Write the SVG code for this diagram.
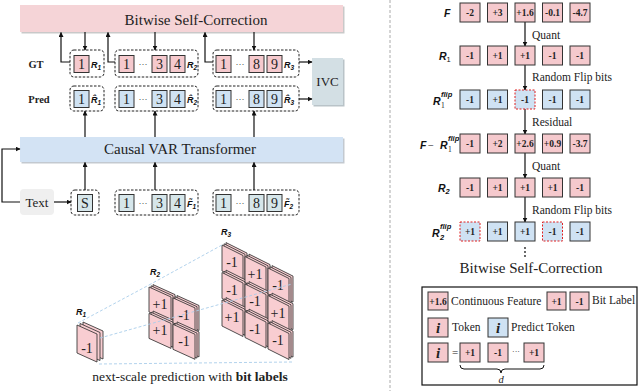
<svg xmlns="http://www.w3.org/2000/svg" width="640" height="391" viewBox="0 0 640 391">
<defs>
<marker id="ah" viewBox="0 0 10 10" refX="9" refY="5" markerWidth="5" markerHeight="5" orient="auto-start-reverse" markerUnits="userSpaceOnUse">
<path d="M0,0 L10,5 L0,10 Z" fill="#111"/>
</marker>
<style>
.ser{font-family:"Liberation Serif","Times New Roman",serif;fill:#222}
.lab{font-family:"Liberation Sans",Arial,sans-serif;font-weight:bold;font-style:italic;fill:#111}
.grp{fill:none;stroke:#222;stroke-width:1;stroke-dasharray:2.5,1.5}
.pk{fill:#f5c9cd;stroke:#333;stroke-width:1}
.bl{fill:#cfe2f3;stroke:#333;stroke-width:1}
.in{fill:#d6e6ea;stroke:#333;stroke-width:1}
.red{stroke:#e02020;stroke-dasharray:2,1.5}
.dg{font-family:"Liberation Serif","Times New Roman",serif;font-size:14px;fill:#222;text-anchor:middle}
.bx{font-family:"Liberation Serif","Times New Roman",serif;font-size:9.5px;font-weight:bold;fill:#222;text-anchor:middle}
.cap{font-family:"Liberation Serif","Times New Roman",serif;font-size:11.5px;fill:#222}
.ln{fill:none;stroke:#111;stroke-width:1.2}
.pl{fill:#f8cdd1;stroke:#333;stroke-width:0.85}
.dl{fill:none;stroke:#a9cdea;stroke-width:0.9;stroke-dasharray:3,2}
.cell{font-family:"Liberation Serif","Times New Roman",serif;font-size:14px;fill:#222;text-anchor:middle}
</style>
</defs>

<!-- separator -->
<line x1="390" y1="0" x2="390" y2="391" stroke="#aaa" stroke-width="1" stroke-dasharray="3,2"/>

<!-- top bar -->
<g id="bitwise-bar">
<rect x="21.5" y="6.5" width="323" height="27" fill="#c9c9c9"/>
<rect x="20" y="5" width="323" height="27" fill="#f5d4d7"/>
<text class="ser" x="196" y="25" font-size="15" text-anchor="middle">Bitwise Self-Correction</text>
</g>

<!-- transformer bar -->
<g id="transformer-bar">
<rect x="21.5" y="138.5" width="323" height="25" fill="#c3c9d0"/>
<rect x="20" y="137" width="323" height="25" fill="#d3e3f4"/>
<text class="ser" x="180" y="154" font-size="15" text-anchor="middle">Causal VAR Transformer</text>
</g>

<g id="row-labels">
<text class="ser" x="36" y="68" font-size="10.5" font-weight="bold" text-anchor="middle">GT</text>
<text class="ser" x="39" y="103" font-size="10.5" font-weight="bold" text-anchor="middle">Pred</text>
</g>

<!-- GT groups -->
<g id="gt-r1">
<rect class="grp" x="70" y="50" width="34" height="27" rx="4"/>
<rect class="pk" x="74" y="55.5" width="15" height="17"/>
<text class="dg" x="81.5" y="69">1</text>
<text class="lab" x="91" y="68" font-size="9">R<tspan font-size="6.5" dy="2">1</tspan></text>
</g>
<g id="gt-r2">
<rect class="grp" x="115" y="50" width="83" height="27" rx="4"/>
<rect class="pk" x="119" y="55.5" width="15" height="17"/>
<text class="dg" x="126.5" y="69">1</text>
<text class="ser" x="143" y="67" font-size="9" text-anchor="middle">···</text>
<rect class="pk" x="152" y="55.5" width="15" height="17"/>
<text class="dg" x="159.5" y="69">3</text>
<rect class="pk" x="170" y="55.5" width="15" height="17"/>
<text class="dg" x="177.5" y="69">4</text>
<text class="lab" x="187" y="68" font-size="9">R<tspan font-size="6.5" dy="2">2</tspan></text>
</g>
<g id="gt-r3">
<rect class="grp" x="213" y="50" width="86" height="27" rx="4"/>
<rect class="pk" x="216" y="55.5" width="15" height="17"/>
<text class="dg" x="223.5" y="69">1</text>
<text class="ser" x="240" y="67" font-size="9" text-anchor="middle">···</text>
<rect class="pk" x="249" y="55.5" width="15" height="17"/>
<text class="dg" x="256.5" y="69">8</text>
<rect class="pk" x="267" y="55.5" width="15" height="17"/>
<text class="dg" x="274.5" y="69">9</text>
<text class="lab" x="284" y="68" font-size="9">R<tspan font-size="6.5" dy="2">3</tspan></text>
</g>

<!-- Pred groups -->
<g id="pred-r1">
<rect class="grp" x="70" y="86" width="34" height="25" rx="4"/>
<rect class="bl" x="74" y="90.5" width="15" height="17"/>
<text class="dg" x="81.5" y="104">1</text>
<text class="lab" x="91" y="103" font-size="9">R̂<tspan font-size="6.5" dy="2">1</tspan></text>
</g>
<g id="pred-r2">
<rect class="grp" x="115" y="86" width="83" height="25" rx="4"/>
<rect class="bl" x="119" y="90.5" width="15" height="17"/>
<text class="dg" x="126.5" y="104">1</text>
<text class="ser" x="143" y="102" font-size="9" text-anchor="middle">···</text>
<rect class="bl" x="152" y="90.5" width="15" height="17"/>
<text class="dg" x="159.5" y="104">3</text>
<rect class="bl" x="170" y="90.5" width="15" height="17"/>
<text class="dg" x="177.5" y="104">4</text>
<text class="lab" x="187" y="103" font-size="9">R̂<tspan font-size="6.5" dy="2">2</tspan></text>
</g>
<g id="pred-r3">
<rect class="grp" x="213" y="86" width="86" height="25" rx="4"/>
<rect class="bl" x="216" y="90.5" width="15" height="17"/>
<text class="dg" x="223.5" y="104">1</text>
<text class="ser" x="240" y="102" font-size="9" text-anchor="middle">···</text>
<rect class="bl" x="249" y="90.5" width="15" height="17"/>
<text class="dg" x="256.5" y="104">8</text>
<rect class="bl" x="267" y="90.5" width="15" height="17"/>
<text class="dg" x="274.5" y="104">9</text>
<text class="lab" x="284" y="103" font-size="9">R̂<tspan font-size="6.5" dy="2">3</tspan></text>
</g>

<g id="ivc">
<rect x="313.5" y="59.5" width="31" height="47" fill="#b9c3c8"/>
<rect x="312" y="58" width="31" height="47" fill="#d3dfe4"/>
<text class="ser" x="327.5" y="86" font-size="13" text-anchor="middle">IVC</text>
</g>

<!-- input row -->
<g id="text-node">
<rect x="20" y="189" width="34" height="26" rx="4" fill="#efefef"/>
<text class="ser" x="37" y="207" font-size="13" text-anchor="middle">Text</text>
</g>
<g id="in-s">
<rect class="grp" x="71" y="190" width="28" height="25" rx="4"/>
<rect class="in" x="77.5" y="194.5" width="15" height="17"/>
<text class="dg" x="85" y="208">S</text>
</g>
<g id="in-f1">
<rect class="grp" x="115" y="190" width="83" height="25" rx="4"/>
<rect class="in" x="119" y="194.5" width="15" height="17"/>
<text class="dg" x="126.5" y="208">1</text>
<text class="ser" x="143" y="206" font-size="9" text-anchor="middle">···</text>
<rect class="in" x="152" y="194.5" width="15" height="17"/>
<text class="dg" x="159.5" y="208">3</text>
<rect class="in" x="170" y="194.5" width="15" height="17"/>
<text class="dg" x="177.5" y="208">4</text>
<text class="lab" x="187" y="207" font-size="9">F̃<tspan font-size="6.5" dy="2">1</tspan></text>
</g>
<g id="in-f2">
<rect class="grp" x="213" y="190" width="86" height="25" rx="4"/>
<rect class="in" x="216" y="194.5" width="15" height="17"/>
<text class="dg" x="223.5" y="208">1</text>
<text class="ser" x="240" y="206" font-size="9" text-anchor="middle">···</text>
<rect class="in" x="249" y="194.5" width="15" height="17"/>
<text class="dg" x="256.5" y="208">8</text>
<rect class="in" x="267" y="194.5" width="15" height="17"/>
<text class="dg" x="274.5" y="208">9</text>
<text class="lab" x="284" y="207" font-size="9">F̃<tspan font-size="6.5" dy="2">2</tspan></text>
</g>

<!-- connectors -->
<g id="connectors">
<path class="ln" d="M70,62 H61 V32.5" marker-end="url(#ah)"/>
<path class="ln" d="M115,62 H108 V32.5" marker-end="url(#ah)"/>
<path class="ln" d="M213,62 H205 V32.5" marker-end="url(#ah)"/>
<path class="ln" d="M85,32 V50" marker-end="url(#ah)"/>
<path class="ln" d="M155,32 V50" marker-end="url(#ah)"/>
<path class="ln" d="M254,32 V50" marker-end="url(#ah)"/>
<path class="ln" d="M299,62 H312" marker-end="url(#ah)"/>
<path class="ln" d="M299,99 H312" marker-end="url(#ah)"/>
<path class="ln" d="M85,137 V111" marker-end="url(#ah)"/>
<path class="ln" d="M155,137 V111" marker-end="url(#ah)"/>
<path class="ln" d="M254,137 V111" marker-end="url(#ah)"/>
<path class="ln" d="M85,190 V162.5" marker-end="url(#ah)"/>
<path class="ln" d="M155,190 V162.5" marker-end="url(#ah)"/>
<path class="ln" d="M254,190 V162.5" marker-end="url(#ah)"/>
<path class="ln" d="M54,202 H71" marker-end="url(#ah)"/>
<path class="ln" d="M20,202 H2 V149 H20" marker-end="url(#ah)"/>
<path class="ln" d="M525,22 V46" marker-end="url(#ah)"/>
<path class="ln" d="M525,65 V90" marker-end="url(#ah)"/>
<path class="ln" d="M525,109 V134" marker-end="url(#ah)"/>
<path class="ln" d="M525,153 V178" marker-end="url(#ah)"/>
<path class="ln" d="M525,197 V222" marker-end="url(#ah)"/>
</g>

<!-- 3D stacks -->
<g id="stack-r1">
<path class="pl" d="M83,322 l20,9 v28 l-20,-9 Z"/>
<path class="pl" d="M80,323.5 l20,9 v28 l-20,-9 Z"/>
<path class="pl" d="M77,325 l20,9 v28 l-20,-9 Z"/>
<text class="cell" x="87" y="353">-1</text>
<text class="lab" x="76" y="315" font-size="9">R<tspan font-size="6.5" dy="2">1</tspan></text>
</g>

<g id="stack-r2">
<path class="pl" d="M153,284.6 l22,10 v25 l-22,-10 Z"/>
<path class="pl" d="M151,285.8 l22,10 v25 l-22,-10 Z"/>
<path class="pl" d="M149,287 l22,10 v25 l-22,-10 Z"/>
<text class="cell" x="160" y="309">+1</text>
<path class="pl" d="M153,311 l22,10 v25 l-22,-10 Z"/>
<path class="pl" d="M151,312.2 l22,10 v25 l-22,-10 Z"/>
<path class="pl" d="M149,313.4 l22,10 v25 l-22,-10 Z"/>
<text class="cell" x="160" y="335">+1</text>
<path class="pl" d="M177,295.5 l22,10 v25 l-22,-10 Z"/>
<path class="pl" d="M175,296.7 l22,10 v25 l-22,-10 Z"/>
<path class="pl" d="M173,297.9 l22,10 v25 l-22,-10 Z"/>
<text class="cell" x="184" y="320">-1</text>
<path class="pl" d="M177,321.9 l22,10 v25 l-22,-10 Z"/>
<path class="pl" d="M175,323.1 l22,10 v25 l-22,-10 Z"/>
<path class="pl" d="M173,324.3 l22,10 v25 l-22,-10 Z"/>
<text class="cell" x="184" y="346">-1</text>
<text class="lab" x="150" y="275" font-size="9">R<tspan font-size="6.5" dy="2">2</tspan></text>
</g>

<g id="stack-r3">
<path class="pl" d="M226,242.6 l21,10.5 v26 l-21,-10.5 Z"/>
<path class="pl" d="M224,243.8 l21,10.5 v26 l-21,-10.5 Z"/>
<path class="pl" d="M222,245 l21,10.5 v26 l-21,-10.5 Z"/>
<text class="cell" x="232" y="267">-1</text>
<path class="pl" d="M226,270.1 l21,10.5 v26 l-21,-10.5 Z"/>
<path class="pl" d="M224,271.3 l21,10.5 v26 l-21,-10.5 Z"/>
<path class="pl" d="M222,272.5 l21,10.5 v26 l-21,-10.5 Z"/>
<text class="cell" x="232" y="294.5">-1</text>
<path class="pl" d="M226,297.6 l21,10.5 v26 l-21,-10.5 Z"/>
<path class="pl" d="M224,298.8 l21,10.5 v26 l-21,-10.5 Z"/>
<path class="pl" d="M222,300 l21,10.5 v26 l-21,-10.5 Z"/>
<text class="cell" x="232" y="322">+1</text>
<path class="pl" d="M249,254.1 l21,10.5 v26 l-21,-10.5 Z"/>
<path class="pl" d="M247,255.3 l21,10.5 v26 l-21,-10.5 Z"/>
<path class="pl" d="M245,256.5 l21,10.5 v26 l-21,-10.5 Z"/>
<text class="cell" x="255" y="278.5">+1</text>
<path class="pl" d="M249,281.6 l21,10.5 v26 l-21,-10.5 Z"/>
<path class="pl" d="M247,282.8 l21,10.5 v26 l-21,-10.5 Z"/>
<path class="pl" d="M245,284 l21,10.5 v26 l-21,-10.5 Z"/>
<text class="cell" x="255" y="306">-1</text>
<path class="pl" d="M249,309.1 l21,10.5 v26 l-21,-10.5 Z"/>
<path class="pl" d="M247,310.3 l21,10.5 v26 l-21,-10.5 Z"/>
<path class="pl" d="M245,311.5 l21,10.5 v26 l-21,-10.5 Z"/>
<text class="cell" x="255" y="333.5">-1</text>
<path class="pl" d="M272,265.6 l21,10.5 v26 l-21,-10.5 Z"/>
<path class="pl" d="M270,266.8 l21,10.5 v26 l-21,-10.5 Z"/>
<path class="pl" d="M268,268 l21,10.5 v26 l-21,-10.5 Z"/>
<text class="cell" x="278" y="290">-1</text>
<path class="pl" d="M272,293.1 l21,10.5 v26 l-21,-10.5 Z"/>
<path class="pl" d="M270,294.3 l21,10.5 v26 l-21,-10.5 Z"/>
<path class="pl" d="M268,295.5 l21,10.5 v26 l-21,-10.5 Z"/>
<text class="cell" x="278" y="317.5">+1</text>
<path class="pl" d="M272,320.6 l21,10.5 v26 l-21,-10.5 Z"/>
<path class="pl" d="M270,321.8 l21,10.5 v26 l-21,-10.5 Z"/>
<path class="pl" d="M268,323 l21,10.5 v26 l-21,-10.5 Z"/>
<text class="cell" x="278" y="345">-1</text>
<text class="lab" x="221" y="235" font-size="9">R<tspan font-size="6.5" dy="2">3</tspan></text>
</g>

<g id="projection-lines">
<path class="dl" d="M78,323 L149,285"/>
<path class="dl" d="M100,338 L292,284"/>
<path class="dl" d="M149,285 L222,245"/>
<path class="dl" d="M99,364 L292,362"/>
</g>

<text class="ser" x="190" y="381" font-size="13.5" text-anchor="middle">next-scale prediction with <tspan font-weight="bold">bit labels</tspan></text>

<!-- right panel -->
<g id="row-F">
<text class="lab" x="444" y="17" font-size="10.5">F</text>
<rect class="pk" x="460" y="3" width="20" height="19"/><text class="bx" x="470" y="16">-2</text>
<rect class="pk" x="487.5" y="3" width="20" height="19"/><text class="bx" x="497.5" y="16">+3</text>
<rect class="pk" x="515" y="3" width="20" height="19"/><text class="bx" x="525" y="16">+1.6</text>
<rect class="pk" x="542.5" y="3" width="20" height="19"/><text class="bx" x="552.5" y="16">-0.1</text>
<rect class="pk" x="570" y="3" width="20" height="19"/><text class="bx" x="580" y="16">-4.7</text>
</g>
<text class="cap" x="532" y="39">Quant</text>
<g id="row-R1">
<text class="lab" x="439" y="60" font-size="10.5">R<tspan font-size="7.5" font-weight="normal" font-style="normal" dy="2">1</tspan></text>
<rect class="pk" x="460" y="46" width="20" height="19"/><text class="bx" x="470" y="59">-1</text>
<rect class="pk" x="487.5" y="46" width="20" height="19"/><text class="bx" x="497.5" y="59">+1</text>
<rect class="pk" x="515" y="46" width="20" height="19"/><text class="bx" x="525" y="59">+1</text>
<rect class="pk" x="542.5" y="46" width="20" height="19"/><text class="bx" x="552.5" y="59">-1</text>
<rect class="pk" x="570" y="46" width="20" height="19"/><text class="bx" x="580" y="59">-1</text>
</g>
<text class="cap" x="532" y="81">Random Flip bits</text>
<g id="row-R1flip">
<text class="lab" x="433" y="105" font-size="10.5">R</text>
<text class="lab" x="441" y="97" font-size="7.5">flip</text>
<text class="ser" x="441" y="108" font-size="7.5">1</text>
<rect class="bl" x="460" y="90" width="20" height="19"/><text class="bx" x="470" y="103">-1</text>
<rect class="bl" x="487.5" y="90" width="20" height="19"/><text class="bx" x="497.5" y="103">+1</text>
<rect class="bl red" x="515" y="90" width="20" height="19"/><text class="bx" x="525" y="103">-1</text>
<rect class="bl" x="542.5" y="90" width="20" height="19"/><text class="bx" x="552.5" y="103">-1</text>
<rect class="bl" x="570" y="90" width="20" height="19"/><text class="bx" x="580" y="103">-1</text>
</g>
<text class="cap" x="532" y="126">Residual</text>
<g id="row-FR">
<text class="lab" x="420" y="149" font-size="10.5">F</text>
<text class="ser" x="428" y="149" font-size="10.5">−</text>
<text class="lab" x="440" y="149" font-size="10.5">R</text>
<text class="lab" x="448" y="141" font-size="7.5">flip</text>
<text class="ser" x="448" y="152" font-size="7.5">1</text>
<rect class="pk" x="460" y="134" width="20" height="19"/><text class="bx" x="470" y="147">-1</text>
<rect class="pk" x="487.5" y="134" width="20" height="19"/><text class="bx" x="497.5" y="147">+2</text>
<rect class="pk" x="515" y="134" width="20" height="19"/><text class="bx" x="525" y="147">+2.6</text>
<rect class="pk" x="542.5" y="134" width="20" height="19"/><text class="bx" x="552.5" y="147">+0.9</text>
<rect class="pk" x="570" y="134" width="20" height="19"/><text class="bx" x="580" y="147">-3.7</text>
</g>
<text class="cap" x="532" y="170">Quant</text>
<g id="row-R2">
<text class="lab" x="438" y="192" font-size="10.5">R<tspan font-size="7.5" dy="2">2</tspan></text>
<rect class="pk" x="460" y="178" width="20" height="19"/><text class="bx" x="470" y="191">-1</text>
<rect class="pk" x="487.5" y="178" width="20" height="19"/><text class="bx" x="497.5" y="191">+1</text>
<rect class="pk" x="515" y="178" width="20" height="19"/><text class="bx" x="525" y="191">+1</text>
<rect class="pk" x="542.5" y="178" width="20" height="19"/><text class="bx" x="552.5" y="191">+1</text>
<rect class="pk" x="570" y="178" width="20" height="19"/><text class="bx" x="580" y="191">-1</text>
</g>
<text class="cap" x="532" y="214">Random Flip bits</text>
<g id="row-R2flip">
<text class="lab" x="432" y="237" font-size="10.5">R</text>
<text class="lab" x="440" y="229" font-size="7.5">flip</text>
<text class="lab" x="440" y="240" font-size="7.5">2</text>
<rect class="bl red" x="460" y="222" width="20" height="19"/><text class="bx" x="470" y="235">+1</text>
<rect class="bl" x="487.5" y="222" width="20" height="19"/><text class="bx" x="497.5" y="235">+1</text>
<rect class="bl" x="515" y="222" width="20" height="19"/><text class="bx" x="525" y="235">+1</text>
<rect class="bl red" x="542.5" y="222" width="20" height="19"/><text class="bx" x="552.5" y="235">-1</text>
<rect class="bl" x="570" y="222" width="20" height="19"/><text class="bx" x="580" y="235">-1</text>
</g>
<g id="vdots" fill="#222">
<circle cx="525" cy="248" r="0.9"/><circle cx="525" cy="252" r="0.9"/><circle cx="525" cy="256" r="0.9"/>
</g>
<text class="ser" x="531" y="273" font-size="15" text-anchor="middle">Bitwise Self-Correction</text>

<!-- legend -->
<g id="legend">
<rect x="422" y="287" width="215" height="98" fill="none" stroke="#111" stroke-width="1.2"/>
<rect class="pk" x="428" y="292" width="20" height="18"/><text class="bx" x="438" y="304.5">+1.6</text>
<text class="cap" x="451" y="305">Continuous Feature</text>
<rect class="pk" x="547" y="292" width="19" height="18"/><text class="bx" x="556.5" y="304.5">+1</text>
<rect class="pk" x="570" y="292" width="19" height="18"/><text class="bx" x="579.5" y="304.5">-1</text>
<text class="cap" x="592" y="304">Bit Label</text>
<rect class="pk" x="428" y="318" width="20" height="19"/>
<text class="ser" x="438" y="333" font-size="15" font-weight="bold" font-style="italic" text-anchor="middle">i</text>
<text class="cap" x="452" y="331">Token</text>
<rect class="bl" x="488" y="318" width="20" height="19"/>
<text class="ser" x="498" y="333" font-size="15" font-weight="bold" font-style="italic" text-anchor="middle">i</text>
<text class="cap" x="511" y="331">Predict Token</text>
<rect class="pk" x="428" y="343" width="20" height="19"/>
<text class="ser" x="438" y="358" font-size="15" font-weight="bold" font-style="italic" text-anchor="middle">i</text>
<text class="ser" x="455" y="356" font-size="11" text-anchor="middle">=</text>
<rect class="pk" x="460" y="343" width="20" height="19"/><text class="bx" x="470" y="356">+1</text>
<rect class="pk" x="488" y="343" width="20" height="19"/><text class="bx" x="498" y="356">-1</text>
<text class="ser" x="516" y="354" font-size="8" text-anchor="middle">···</text>
<rect class="pk" x="524" y="343" width="20" height="19"/><text class="bx" x="534" y="356">+1</text>
<path d="M460,365 Q460,369 464,369 H497 Q501,369 501,373 Q501,369 505,369 H540 Q544,369 544,365" fill="none" stroke="#111" stroke-width="1"/>
<text class="ser" x="501" y="383" font-size="10.5" font-style="italic" text-anchor="middle">d</text>
</g>
</svg>
